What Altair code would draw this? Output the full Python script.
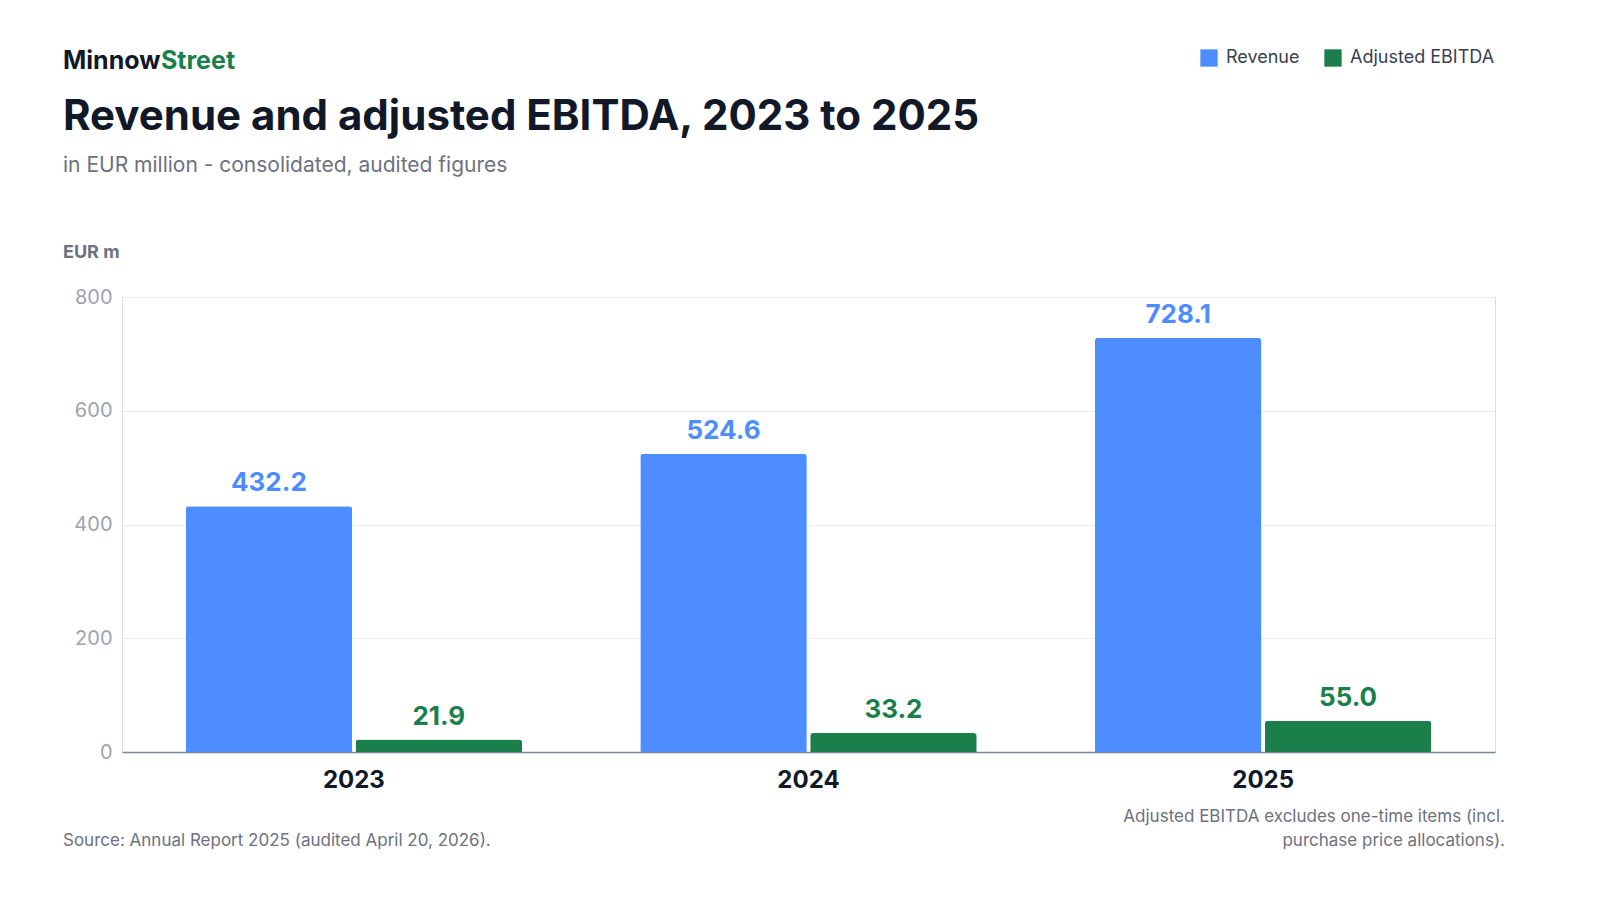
import altair as alt
import pandas as pd

years = ["2023", "2024", "2025"]
series = ["Revenue", "Adjusted EBITDA"]
revenue = [432.2, 524.6, 728.1]
ebitda = [21.9, 33.2, 55.0]
colors = ["#4d8dff", "#1a7f4b"]

brand = ["Minnow", "Street"]
title = "Revenue and adjusted EBITDA, 2023 to 2025"
subtitle = "in EUR million - consolidated, audited figures"
unit = "EUR m"
source = "Source: Annual Report 2025 (audited April 20, 2026)."
note = ["Adjusted EBITDA excludes one-time items (incl.", "purchase price allocations)."]

FONT = "Inter"

rows = []
for i, y in enumerate(years):
    rows.append({"year": y, "series": series[0], "value": revenue[i], "label": f"{revenue[i]:.1f}"})
    rows.append({"year": y, "series": series[1], "value": ebitda[i], "label": f"{ebitda[i]:.1f}"})
df = pd.DataFrame(rows)

x = alt.X("year:N", title=None,
          scale=alt.Scale(paddingInner=0.26, paddingOuter=0.14),
          axis=alt.Axis(labelAngle=0, labelFont=FONT, labelFontSize=24, labelFontWeight="bold",
                        labelColor="#111827", labelPadding=16, ticks=False,
                        domainColor="#7a8699", domainWidth=1.5))
xoff = alt.XOffset("series:N", sort=series, scale=alt.Scale(paddingInner=0.02))
y = alt.Y("value:Q", title=None, scale=alt.Scale(domain=[0, 800]),
          axis=alt.Axis(values=[0, 200, 400, 600, 800], labelFont=FONT, labelFontSize=20,
                        labelColor="#9ca3af", labelPadding=10, ticks=False, domain=False,
                        gridColor="#e8eaee"))
color = alt.Color("series:N", sort=series, scale=alt.Scale(domain=series, range=colors),
                  legend=alt.Legend(title=None, orient="none", direction="horizontal",
                                    legendX=1078, legendY=-248, symbolType="square",
                                    symbolSize=300, symbolStrokeWidth=0, labelFont=FONT,
                                    labelFontSize=18, labelColor="#374151", columnPadding=24,
                                    labelOffset=8))

base = alt.Chart(df)
bars = base.mark_bar(cornerRadiusTopLeft=3, cornerRadiusTopRight=3).encode(
    x=x, xOffset=xoff, y=y, color=color)
labels = base.mark_text(dy=-10, baseline="bottom", font=FONT, fontSize=26, fontWeight="bold").encode(
    x=x, xOffset=xoff, y=y, text="label:N",
    color=alt.Color("series:N", sort=series, scale=alt.Scale(domain=series, range=colors), legend=None))


def txt(t, xv, yv, size, color, weight="normal", align="left"):
    return alt.Chart(pd.DataFrame({"t": [t]})).mark_text(
        font=FONT, fontSize=size, fontWeight=weight, color=color, align=align, baseline="alphabetic"
    ).encode(text="t:N", x=alt.value(xv), y=alt.value(yv))


texts = [
    txt(brand[0], -59, -228, 25, "#111827", "bold"),
    txt(brand[1], 39, -228, 25, "#1a7f4b", "bold"),
    txt(title, -59, -167, 42, "#111827", "bold"),
    txt(subtitle, -59, -125, 21, "#6b7280"),
    txt(unit, -59, -39, 18, "#6b7280", "bold"),
    txt(source, -59, 549, 17, "#6b7280"),
    txt(note[0], 1383, 525, 17, "#6b7280", align="right"),
    txt(note[1], 1383, 549, 17, "#6b7280", align="right"),
]

chart = alt.layer(bars, labels, *texts).properties(
    width=1373, height=455,
    autosize=alt.AutoSizeParams(type="none"),
    padding={"left": 114, "top": 289, "right": 40, "bottom": 100},
).configure_view(stroke=None).configure(background="white")

chart.save("out.html", embed_options={"renderer": "svg", "actions": False})
